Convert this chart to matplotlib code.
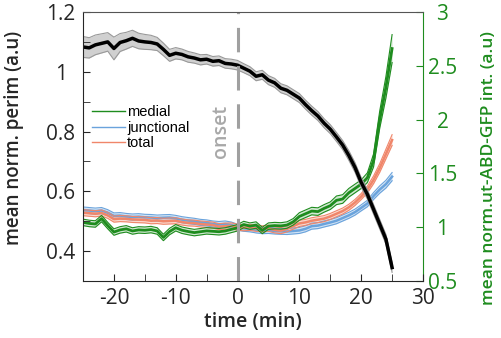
import matplotlib
matplotlib.use("Agg")
import matplotlib.pyplot as plt
from matplotlib.lines import Line2D
from matplotlib.ticker import MultipleLocator
import numpy as np

# time axis (min), onset at 0
time = list(range(-25, 26))

# mean normalised perimeter (left axis) and its SEM
perim = [1.083, 1.080, 1.090, 1.095, 1.100, 1.078, 1.098, 1.104, 1.112, 1.103,
         1.100, 1.098, 1.093, 1.075, 1.055, 1.062, 1.058, 1.050, 1.046, 1.040,
         1.042, 1.035, 1.037, 1.028, 1.026, 1.022, 1.012, 1.002, 0.985, 0.990,
         0.972, 0.963, 0.945, 0.938, 0.925, 0.912, 0.890, 0.870, 0.852, 0.828,
         0.808, 0.782, 0.755, 0.720, 0.680, 0.630, 0.590, 0.540, 0.490, 0.440,
         0.345]
perim_sem = [0.035, 0.034, 0.033, 0.032, 0.031, 0.038, 0.030, 0.028, 0.027, 0.026,
             0.025, 0.024, 0.022, 0.021, 0.020, 0.019, 0.018, 0.018, 0.017, 0.017,
             0.016, 0.016, 0.016, 0.016, 0.016, 0.016, 0.015, 0.015, 0.015, 0.015,
             0.015, 0.015, 0.015, 0.015, 0.015, 0.015, 0.015, 0.015, 0.015, 0.015,
             0.015, 0.015, 0.015, 0.016, 0.016, 0.016, 0.016, 0.016, 0.016, 0.016,
             0.016]

# mean normalised ut-ABD-GFP intensity (right axis)
medial = [1.045, 1.035, 1.030, 1.080, 1.015, 0.955, 0.975, 0.985, 0.965, 0.975,
          0.972, 0.978, 0.965, 0.905, 0.960, 0.995, 0.972, 0.960, 0.950, 0.958,
          0.966, 0.962, 0.958, 0.965, 0.980, 0.995, 1.025, 1.010, 1.020, 0.970,
          1.010, 1.015, 1.012, 1.020, 1.050, 1.100, 1.125, 1.150, 1.145, 1.175,
          1.200, 1.250, 1.262, 1.320, 1.360, 1.400, 1.460, 1.620, 2.000, 2.300,
          2.660]
medial_sem = [0.030] * 35 + [0.035] * 6 + [0.040] * 5 + [0.045, 0.060, 0.080, 0.100, 0.130]

junctional = [1.160, 1.155, 1.150, 1.155, 1.135, 1.105, 1.108, 1.100, 1.095, 1.098,
              1.092, 1.090, 1.085, 1.088, 1.090, 1.082, 1.070, 1.062, 1.055, 1.045,
              1.040, 1.030, 1.025, 1.030, 1.020, 1.000, 0.990, 0.985, 0.975, 0.968,
              0.970, 0.965, 0.962, 0.960, 0.965, 0.970, 0.985, 1.010, 1.015, 1.030,
              1.044, 1.060, 1.085, 1.110, 1.140, 1.180, 1.220, 1.290, 1.350, 1.400,
              1.470]
junctional_sem = [0.028] * 46 + [0.030, 0.032, 0.034, 0.036, 0.038]

total = [1.135, 1.130, 1.125, 1.132, 1.110, 1.075, 1.080, 1.078, 1.072, 1.070,
         1.068, 1.060, 1.062, 1.055, 1.058, 1.060, 1.048, 1.040, 1.038, 1.030,
         1.025, 1.020, 1.005, 1.010, 1.012, 1.000, 0.995, 0.998, 0.990, 0.985,
         0.990, 0.975, 0.968, 0.985, 1.010, 1.035, 1.045, 1.060, 1.070, 1.080,
         1.100, 1.125, 1.150, 1.185, 1.230, 1.285, 1.350, 1.440, 1.550, 1.680,
         1.810]
total_sem = [0.028] * 46 + [0.032, 0.036, 0.040, 0.045, 0.050]

GREEN = "#1e8c1e"
BLUE = "#6aa3dc"
ORANGE = "#f0866a"
AXCOL = "#262626"

plt.rcParams["font.family"] = "Open Sans"

fig = plt.figure(figsize=(5.01, 3.38), dpi=100)
ax = fig.add_axes([0.1657, 0.1686, 0.6786, 0.7959])
ax2 = ax.twinx()

t = np.array(time)


def shaded(axis, mean, sem, color, lw, fill_alpha):
    mean = np.array(mean)
    sem = np.array(sem)
    axis.fill_between(t, mean - sem, mean + sem, color=color, alpha=fill_alpha, lw=0)
    axis.plot(t, mean - sem, color=color, lw=0.8)
    axis.plot(t, mean + sem, color=color, lw=0.8)
    axis.plot(t, mean, color=color, lw=lw)


# colour series on right axis
shaded(ax2, junctional, junctional_sem, BLUE, 1.8, 0.3)
shaded(ax2, total, total_sem, ORANGE, 1.8, 0.3)
shaded(ax2, medial, medial_sem, GREEN, 2.0, 0.2)

# perimeter on left axis, drawn on top
pm = np.array(perim)
ps = np.array(perim_sem)
ax.fill_between(t, pm - ps, pm + ps, color="#d0d0d0", lw=0)
ax.plot(t, pm - ps, color="#999999", lw=0.8)
ax.plot(t, pm + ps, color="#999999", lw=0.8)
ax.plot(t, pm, color="black", lw=2.5)
ax.set_zorder(ax2.get_zorder() + 1)
ax.patch.set_visible(False)

ax.axvline(0, color="#a0a0a0", lw=2.2, dashes=(8, 4.5))
ax.text(-2.6, 0.80, "onset", rotation=90, color="#a8a8a8", fontsize=14,
        fontweight="semibold", ha="center", va="center")

ax.set_xlim(-25, 30)
ax.set_ylim(0.3, 1.2)
ax2.set_ylim(0.5, 3)

ax.xaxis.set_minor_locator(MultipleLocator(5))
ax.yaxis.set_minor_locator(MultipleLocator(0.1))
ax.set_yticks([0.4, 0.6, 0.8, 1.0, 1.2])
ax.set_yticklabels(["0.4", "0.6", "0.8", "1", "1.2"])
ax.set_xticks([-20, -10, 0, 10, 20, 30])
ax.set_xticklabels(["-20", "-10", "0", "10", "20", "30"])
ax2.set_yticks([0.5, 1, 1.5, 2, 2.5, 3])
ax2.set_yticklabels(["0.5", "1", "1.5", "2", "2.5", "3"])

ax.tick_params(axis="both", which="both", direction="in", colors=AXCOL,
               labelsize=15, top=False, right=False, length=5)
ax.tick_params(axis="y", pad=16)
ax.tick_params(axis="x", pad=5)
for lab in ax.get_yticklabels():
    lab.set_ha("center")
ax2.tick_params(axis="y", direction="in", colors=GREEN, labelsize=15, length=5, pad=14)
for lab in ax2.get_yticklabels():
    lab.set_ha("center")

for s in ["left", "bottom"]:
    ax.spines[s].set_color(AXCOL)
ax.spines["top"].set_color("#555555")
ax.spines["right"].set_visible(False)
for s in ["left", "top", "bottom"]:
    ax2.spines[s].set_visible(False)
ax2.spines["right"].set_color(GREEN)

ax.set_xlabel("time (min)", fontsize=14, fontweight="semibold", color=AXCOL, labelpad=2)
ax.set_ylabel("mean norm. perim (a.u)", fontsize=13.5, fontweight="semibold", color=AXCOL)
ax.yaxis.set_label_coords(-0.175, 0.53)
ax2.set_ylabel("mean norm.ut-ABD-GFP int. (a.u)", fontsize=12.5, fontweight="semibold",
               color=GREEN)
ax2.yaxis.set_label_coords(1.17, 0.42)

handles = [Line2D([], [], color=GREEN, lw=1),
           Line2D([], [], color=BLUE, lw=1),
           Line2D([], [], color=ORANGE, lw=1)]
ax.legend(handles, ["medial", "junctional", "total"], loc="center left",
          bbox_to_anchor=(0.026, 0.569), frameon=False, borderpad=0, borderaxespad=0,
          handlelength=2.3, handletextpad=0.1, labelspacing=0.1,
          prop={"family": "Liberation Sans", "size": 10.5})

fig.savefig("out.png", dpi=100)
